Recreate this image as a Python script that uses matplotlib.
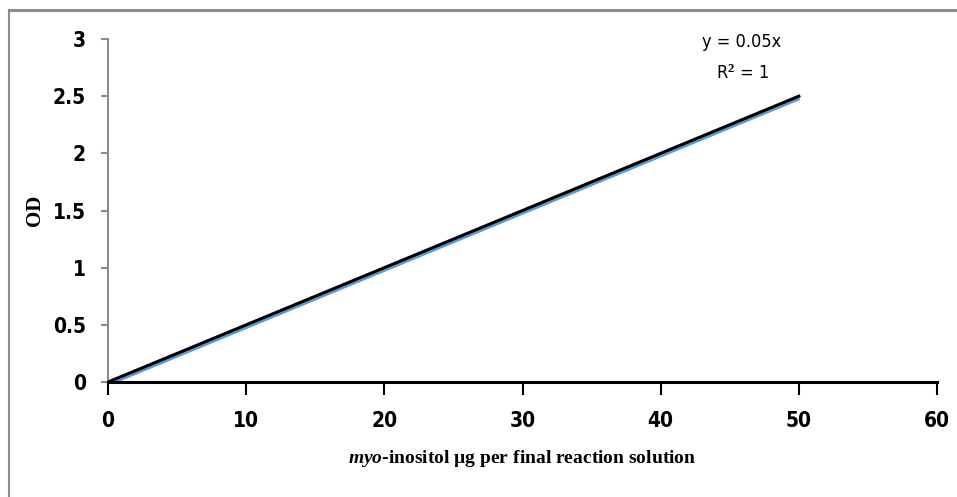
import matplotlib
matplotlib.use("Agg")
import matplotlib.pyplot as plt
import matplotlib.transforms as mtransforms
from matplotlib.lines import Line2D

x_vals = [0, 10, 20, 30, 40, 50]
od_vals = [0, 0.5, 1.0, 1.5, 2.0, 2.5]
slope = 0.05
x_ticks = [0, 10, 20, 30, 40, 50, 60]
y_ticks = [0, 0.5, 1, 1.5, 2, 2.5, 3]
y_tick_labels = ["0", "0.5", "1", "1.5", "2", "2.5", "3"]

plt.rcParams["mathtext.fontset"] = "custom"
plt.rcParams["mathtext.rm"] = "Liberation Serif:bold"
plt.rcParams["mathtext.bf"] = "Liberation Serif:bold"
plt.rcParams["mathtext.it"] = "Liberation Serif:italic:bold"
plt.rcParams["mathtext.bfit"] = "Liberation Serif:italic:bold"

tick_font = ["DejaVu Sans"]
label_font = ["Liberation Serif", "DejaVu Serif"]

fig = plt.figure(figsize=(9.57, 4.97), dpi=100)
ax = fig.add_axes([0.1129, 0.2314, 0.9791 - 0.1129, 0.9215 - 0.2314])

blue_tr = mtransforms.offset_copy(ax.transData, fig=fig, x=0.5, y=-1.4, units="points")
ax.plot(x_vals, od_vals, color="#5B9BD5", lw=2.8, transform=blue_tr, solid_capstyle="butt", zorder=3)
trend_x = [x_vals[0], x_vals[-1]]
trend_y = [slope * v for v in trend_x]
ax.plot(trend_x, trend_y, color="black", lw=2.2, zorder=4)

ax.set_xlim(0, 60)
ax.set_ylim(0, 3)
ax.set_xticks(x_ticks)
ax.set_yticks(y_ticks)
ax.set_yticklabels(y_tick_labels)

for s in ["top", "right"]:
    ax.spines[s].set_visible(False)
ax.spines["left"].set_color("#8c8c8c")
ax.spines["left"].set_linewidth(1.5)
ax.spines["bottom"].set_color("black")
ax.spines["bottom"].set_linewidth(2.2)
ax.spines["bottom"].set_zorder(5)

ax.tick_params(axis="y", direction="out", length=5, width=1.5, color="#8c8c8c", pad=11)
ax.tick_params(axis="x", direction="out", length=9, width=1.5, color="black", pad=12)
for lab in ax.get_xticklabels() + ax.get_yticklabels():
    lab.set_fontfamily(tick_font)
    lab.set_fontstretch("condensed")
    lab.set_fontweight("bold")
    lab.set_fontsize(15)

ax.set_xlabel(r"$\mathit{myo}$-inositol µg per final reaction solution",
              fontfamily=label_font, fontweight="bold", fontsize=14, labelpad=12)
ax.set_ylabel("OD", fontfamily=label_font, fontweight="bold", fontsize=15)
ax.yaxis.set_label_coords(-0.076, 0.5)

for txt, yy in [("y = 0.05x", 42), ("R$^2$ = 1", 73)]:
    fig.text(742 / 957, 1 - yy / 497, txt, ha="center", va="center",
             fontfamily=tick_font, fontstretch="condensed", fontsize=13)

fig.add_artist(Line2D([8.5 / 957, 1.0], [1 - 10 / 497, 1 - 10 / 497], color="#8c8c8c", lw=2.2, transform=fig.transFigure))
fig.add_artist(Line2D([8.5 / 957, 8.5 / 957], [0, 1 - 10 / 497], color="#8c8c8c", lw=1.5, transform=fig.transFigure))

fig.savefig("out.png", dpi=100)
